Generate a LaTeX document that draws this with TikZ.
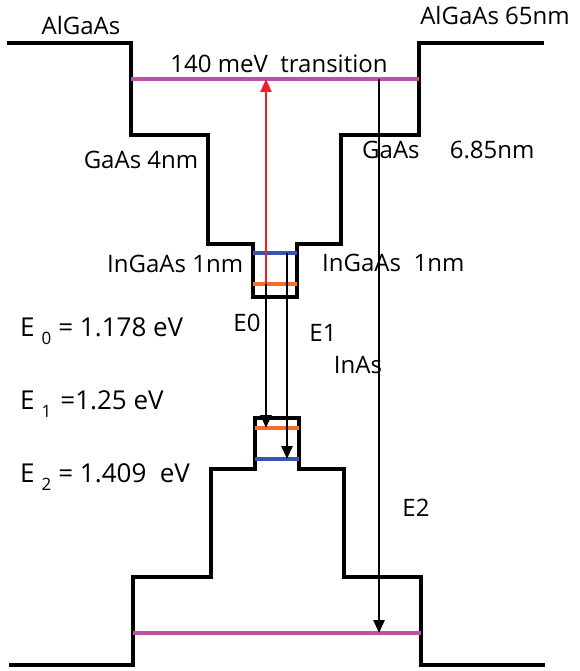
\documentclass[tikz,border=0pt]{standalone}
\usepackage{fontspec}
\setmainfont{Open Sans}
\usetikzlibrary{arrows.meta}
\definecolor{lvlmag}{RGB}{190,80,165}
\definecolor{lvlblue}{RGB}{55,85,170}
\definecolor{lvlorange}{RGB}{245,110,40}
\definecolor{arrred}{RGB}{240,30,40}
\newcommand{\subidx}[1]{\hspace{7pt}\raisebox{-8pt}{\fontsize{17}{17}\selectfont #1}}
\begin{document}
\begin{tikzpicture}[x=1pt,y=-1pt,
  band/.style={line width=3.3pt,line join=miter,black},
  level/.style={line width=3.3pt},
  trans/.style={line width=2.6pt,-{Triangle[length=13pt,width=11pt]}},
  lbl/.style={font=\fontsize{24}{27}\selectfont,inner sep=0pt},
  eqn/.style={font=\fontsize{26}{29}\selectfont,inner sep=0pt,anchor=west}]
\useasboundingbox (0,0) rectangle (579,671);
% band edges
\draw[band] (7,43) -- (131,43) -- (131,135) -- (208,135) -- (208,244) -- (253,244) -- (253,297) -- (297,297) -- (297,244) -- (341,244) -- (341,135) -- (419,135) -- (419,43) -- (544,43);
\draw[band] (9,665) -- (133,665) -- (133,577) -- (211,577) -- (211,469) -- (255,469) -- (255,418) -- (299,418) -- (299,469) -- (344,469) -- (344,577) -- (421,577) -- (421,665) -- (545,665);
% levels
\coordinate (mt1) at (131,79); \coordinate (mt2) at (419,79);
\coordinate (mb1) at (133,633); \coordinate (mb2) at (421,633);
\draw[level,lvlmag] (mt1) -- (mt2);
\draw[level,lvlmag] (mb1) -- (mb2);
\draw[level,lvlblue] (253,253) -- (297,253);
\draw[level,lvlorange] (253,284) -- (297,284);
\draw[level,lvlorange] (255,428) -- (299,428);
\draw[level,lvlblue] (255,459) -- (299,459);
% transitions
\coordinate (r0) at (266,284); \coordinate (r1) at (266,79);
\coordinate (e0a) at (266,284); \coordinate (e0b) at (266,428);
\coordinate (e1a) at (287,253); \coordinate (e1b) at (287,459);
\coordinate (e2a) at (379,79); \coordinate (e2b) at (379,633);
\draw[trans,arrred,line width=2.2pt] (r0) -- (r1);
\draw[trans] (e0a) -- (e0b);
\draw[trans] (e1a) -- (e1b);
\draw[trans] (e2a) -- (e2b);
% labels
\node[lbl] (tAl) at (81,26) {AlGaAs};
\node[lbl] (tAl2) at (495,16) {AlGaAs 65nm};
\node[lbl] (tTr) at (279,64) {140 meV\ \ transition};
\node[lbl] (tGa) at (141,160) {GaAs 4nm};
\node[lbl,anchor=west] (tGa2) at (362,150) {GaAs\quad\ 6.85nm};
\node[lbl,anchor=west] (tIn1) at (107,264) {InGaAs 1nm};
\node[lbl,anchor=west] (tIn2) at (322,263) {InGaAs\ \ 1nm};
\node[lbl] (tE0) at (247,323) {E0};
\node[lbl] (tE1) at (323,333) {E1};
\node[lbl] (tInAs) at (358,365) {InAs};
\node[lbl] (tE2) at (416,508) {E2};
\node[eqn] (q0) at (20,331) {E\subidx{0}\hspace{7pt}= 1.178 eV};
\node[eqn] (q1) at (20,404) {E\subidx{1}\hspace{9pt}=1.25 eV};
\node[eqn] (q2) at (20,477) {E\subidx{2}\hspace{7pt}= 1.409\ \ eV};
\end{tikzpicture}
\end{document}
